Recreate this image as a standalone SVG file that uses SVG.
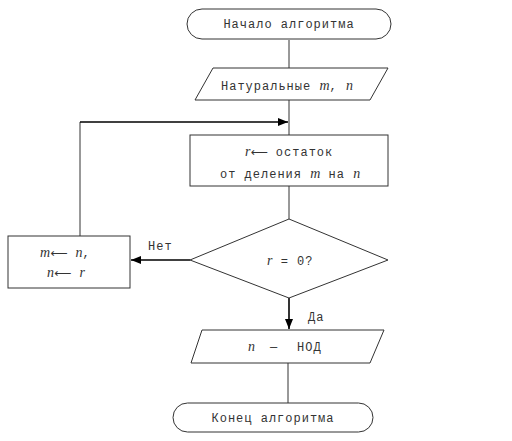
<svg xmlns="http://www.w3.org/2000/svg" width="512" height="441" viewBox="0 0 512 441">
<style>
.s{fill:#fff;stroke:#333;stroke-width:1}
.c{fill:none;stroke:#333;stroke-width:1}
.a{fill:none;stroke:#000;stroke-width:1.6}
text{font-family:"Liberation Mono",monospace;font-size:12px;fill:#333;letter-spacing:1px}
.i{font-family:"Liberation Serif",serif;font-style:italic;font-size:14px;letter-spacing:0}
.r{font-family:"DejaVu Sans",sans-serif;font-size:12px;letter-spacing:0}
.m{text-anchor:middle}
</style>
<defs>
<marker id="ar" markerWidth="10" markerHeight="8" refX="10" refY="4" orient="auto" markerUnits="userSpaceOnUse">
<path d="M0,0 L10,4 L0,8 Z" fill="#000"/>
</marker>
</defs>
<rect width="512" height="441" fill="#fff"/>
<g id="connectors">
<line class="c" x1="289" y1="40" x2="289" y2="68"/>
<line class="c" x1="289" y1="100" x2="289" y2="135"/>
<line class="c" x1="289" y1="186" x2="289" y2="219"/>
<line class="c" x1="80" y1="236" x2="80" y2="122"/>
<line class="a" x1="80" y1="122" x2="288" y2="122" marker-end="url(#ar)"/>
<line class="a" x1="190" y1="260" x2="131" y2="260" marker-end="url(#ar)"/>
<line class="a" x1="289" y1="298" x2="289" y2="329" marker-end="url(#ar)"/>
<line class="c" x1="288" y1="363" x2="288" y2="403"/>
<text x="148" y="250">Нет</text>
<text x="308" y="321">Да</text>
</g>
<g id="start">
<rect class="s" x="187" y="9" width="204" height="30" rx="15"/>
<text class="m" x="289" y="28">Начало алгоритма</text>
</g>
<g id="input">
<polygon class="s" points="213,68 388,68 370,100 195,100"/>
<text x="221" y="90">Натуральные <tspan class="i">m</tspan>, <tspan class="i">n</tspan></text>
</g>
<g id="process">
<rect class="s" x="190" y="135" width="198" height="51"/>
<text x="245" y="156"><tspan class="i">r</tspan><tspan class="r">⟵</tspan> остаток</text>
<text x="220" y="178">от деления <tspan class="i">m</tspan> на <tspan class="i">n</tspan></text>
</g>
<g id="decision">
<polygon class="s" points="289,219 388,260 289,298 190,260"/>
<text x="267" y="265"><tspan class="i">r</tspan> = 0?</text>
</g>
<g id="assign">
<rect class="s" x="8" y="236" width="122" height="52"/>
<text x="40" y="257"><tspan class="i">m</tspan><tspan class="r">⟵</tspan> <tspan class="i">n</tspan>,</text>
<text x="47" y="277"><tspan class="i">n</tspan><tspan class="r">⟵</tspan> <tspan class="i">r</tspan></text>
</g>
<g id="output">
<polygon class="s" points="202,330 384,330 370,363 191,363"/>
<text x="248" y="351"><tspan class="i">n</tspan><tspan x="270">—</tspan><tspan x="297">НОД</tspan></text>
</g>
<g id="end">
<rect class="s" x="173" y="403" width="200" height="29" rx="14.5"/>
<text class="m" x="273" y="422">Конец алгоритма</text>
</g>
</svg>
